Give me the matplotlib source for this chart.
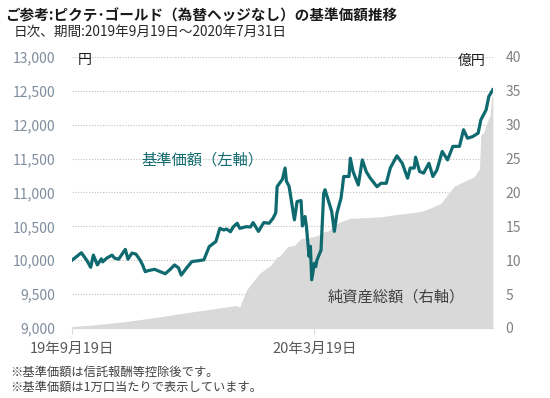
import matplotlib
matplotlib.use("Agg")
import matplotlib.pyplot as plt
import pandas as pd

plt.rcParams['font.family'] = ['Noto Sans CJK JP', 'DejaVu Sans']

start = pd.Timestamp("2019-09-19")

# 基準価額 (days since 2019-09-19, yen)
nav_days = [0, 7, 11, 14, 16, 19, 22, 23, 26, 30, 32, 35, 40, 42, 45, 48, 51, 53, 55, 57,
            62, 65, 70, 74, 77, 80, 82, 86, 90, 94, 99, 103, 108, 111, 114, 116, 119, 121,
            124, 126, 131, 134, 136, 140, 144, 148, 151, 153, 154, 158, 160, 161, 163, 167,
            169, 172, 173, 175, 176, 178, 179, 180, 182, 183, 184, 187, 189, 190, 195, 197,
            199, 202, 203, 204, 208, 209, 211, 215, 218, 221, 224, 229, 232, 236, 239, 244,
            248, 252, 254, 257, 258, 261, 264, 268, 271, 274, 278, 282, 286, 291, 294, 297,
            301, 305, 307, 311, 313, 316]
nav = [10000, 10110, 10000, 9895, 10075, 9930, 10020, 9975, 10030, 10075, 10030, 10015,
       10160, 10015, 10105, 10090, 10005, 9930, 9830, 9845, 9865, 9840, 9800, 9870, 9930,
       9885, 9780, 9885, 9980, 9990, 10005, 10200, 10275, 10470, 10445, 10460, 10420, 10490,
       10545, 10470, 10495, 10490, 10555, 10425, 10555, 10545, 10620, 10700, 11085, 11195,
       11360, 11165, 11090, 10595, 10865, 10880, 10505, 10645, 10500, 10055, 10205, 9710,
       9955, 9905, 10005, 10150, 10990, 11040, 10720, 10425, 10700, 10915, 11065, 11235,
       11235, 11505, 11310, 11110, 11480, 11305, 11210, 11085, 11135, 11135, 11360, 11540,
       11430, 11210, 11360, 11360, 11520, 11310, 11285, 11430, 11235, 11330, 11605, 11480,
       11680, 11680, 11925, 11800, 11825, 11875, 12070, 12220, 12415, 12515]

# 純資産総額 (days since 2019-09-19, 億円)
aum_days = [0, 16, 41, 66, 91, 116, 123, 126, 131, 141, 149, 154, 156, 162, 167, 172, 177,
            182, 185, 189, 192, 199, 202, 209, 212, 232, 242, 247, 262, 268, 277, 287, 292,
            302, 306, 307, 309, 313, 314, 315, 316]
aum = [0.2, 0.45, 0.95, 1.65, 2.4, 3.1, 3.3, 3.1, 5.6, 8.1, 9.2, 10.5, 10.6, 12.0, 12.2,
       13.2, 13.3, 13.5, 13.7, 14.2, 14.3, 15.4, 15.7, 16.2, 16.2, 16.4, 16.7, 16.8, 17.2,
       17.6, 18.4, 20.9, 21.4, 22.3, 23.5, 28.5, 28.8, 31.0, 31.4, 33.8, 34.5]

nav_dates = start + pd.to_timedelta(nav_days, unit="D")
aum_dates = start + pd.to_timedelta(aum_days, unit="D")
end = pd.Timestamp("2020-07-31")

tick_dates = [pd.Timestamp("2019-09-19"), pd.Timestamp("2020-03-19")]
tick_labels = ["19年9月19日", "20年3月19日"]

teal = "#0E6A6E"

fig = plt.figure(figsize=(5.5, 3.98), dpi=100)
ax1 = fig.add_axes([0.131, 0.176, 0.765, 0.681])
ax2 = ax1.twinx()

ax2.fill_between(aum_dates, 0, aum, color="#D9D9D9", lw=0, zorder=1)
ax2.set_ylim(0, 40)
ax2.set_yticks(range(0, 41, 5))
ax2.grid(axis="y", color="#BFBFBF", linestyle=(0, (1, 1.5)), linewidth=0.8, zorder=0)
ax2.set_axisbelow(True)

ax1.set_zorder(ax2.get_zorder() + 1)
ax1.patch.set_visible(False)
ax1.plot(nav_dates, nav, color=teal, lw=2.3, solid_joinstyle="round")
ax1.set_ylim(9000, 13000)
ax1.set_yticks(range(9000, 13001, 500))
ax1.set_yticklabels([f"{v:,}" for v in range(9000, 13001, 500)])
ax1.set_xlim(start, end)
ax1.set_xticks(tick_dates)
ax1.set_xticklabels(tick_labels)

for a in (ax1, ax2):
    for s in a.spines.values():
        s.set_visible(False)
ax1.spines["bottom"].set_visible(True)
ax1.spines["bottom"].set_color("#D9D9D9")

ax1.tick_params(axis="y", length=0, pad=12, labelsize=10, labelcolor="#7F8C9E")
ax2.tick_params(axis="y", length=0, pad=9, labelsize=10, labelcolor="#808080")
ax1.tick_params(axis="x", length=4, color="#D9D9D9", pad=6, labelsize=10.5, labelcolor="#595959")

fig.text(0.009, 0.962, "ご参考:ピクテ･ゴールド（為替ヘッジなし）の基準価額推移",
         fontsize=10.5, fontweight="bold", color="#1a1a1a", va="center")
fig.text(0.024, 0.92, "日次、期間:2019年9月19日～2020年7月31日",
         fontsize=9.8, color="#262626", va="center")
fig.text(0.142, 0.848, "円", fontsize=10, color="#1a1a1a", va="center")
fig.text(0.882, 0.848, "億円", fontsize=10, color="#1a1a1a", va="center", ha="right")
fig.text(0.258, 0.598, "基準価額（左軸）", fontsize=11, color=teal, va="center")
fig.text(0.596, 0.254, "純資産総額（右軸）", fontsize=11, color="#404040", va="center")
fig.text(0.018, 0.065, "※基準価額は信託報酬等控除後です。", fontsize=8.8, color="#404040", va="center")
fig.text(0.018, 0.027, "※基準価額は1万口当たりで表示しています。", fontsize=8.8, color="#404040", va="center")

fig.savefig("out.png", dpi=100)
